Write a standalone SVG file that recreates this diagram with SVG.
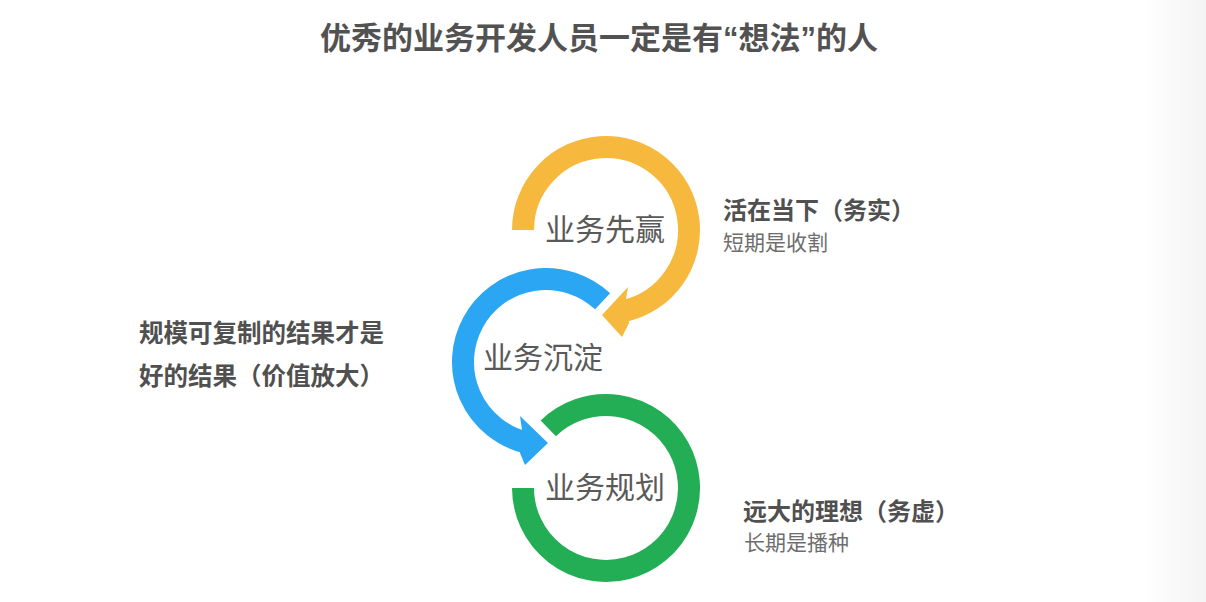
<svg xmlns="http://www.w3.org/2000/svg" width="1206" height="602" viewBox="0 0 1206 602">
<defs>
<linearGradient id="edge" x1="0" y1="0" x2="1" y2="0">
<stop offset="0" stop-color="#ffffff"/>
<stop offset="1" stop-color="#f4f4f4"/>
</linearGradient>
<style>
text{font-family:"Liberation Sans","Noto Sans CJK SC",sans-serif;}
.title{font-size:31px;font-weight:bold;fill:#525252;text-anchor:middle;}
.ring{fill:none;stroke-width:22;stroke-linecap:butt;}
.lbl{font-size:30px;fill:#5a5a5a;text-anchor:middle;}
.head{font-size:24px;font-weight:bold;fill:#505050;}
.sub{font-size:21px;fill:#6e6e6e;}
.yel{stroke:#F7B93D;} .yelf{fill:#F7B93D;}
.blu{stroke:#2AA6F2;} .bluf{fill:#2AA6F2;}
.grn{stroke:#23AE55;}
</style>
</defs>
<rect width="1206" height="602" fill="#ffffff"/>
<rect x="1140" y="0" width="66" height="602" fill="url(#edge)"/>
<text class="title" x="599" y="49">优秀的业务开发人员一定是有“想法”的人</text>

<g id="node-win">
<path class="ring yel" d="M 523 230 A 83 83 0 1 1 623.26 311.19"/>
<polygon class="yelf" points="602,315 628,287 626,299 629,323 622,337"/>
<text class="lbl" x="605" y="240">业务先赢</text>
</g>

<g id="node-settle">
<path class="ring blu" d="M 602.6 301.3 A 83 83 0 1 0 525.92 442.53"/>
<polygon class="bluf" points="520,416 548,443 525,465 520,453 522,430"/>
<text class="lbl" x="543" y="368">业务沉淀</text>
</g>

<g id="node-plan">
<path class="ring grn" d="M 548.3 428.3 A 83 83 0 1 1 523 488"/>
<text class="lbl" x="605" y="498">业务规划</text>
</g>

<g id="note-short">
<text class="head" x="723" y="219">活在当下（务实）</text>
<text class="sub" x="723" y="250">短期是收割</text>
</g>

<g id="note-scale">
<text class="head" x="139" y="342" style="font-size:24.5px">规模可复制的结果才是</text>
<text class="head" x="139" y="385" style="font-size:24.5px">好的结果（价值放大）</text>
</g>

<g id="note-long">
<text class="head" x="743" y="520">远大的理想（务虚）</text>
<text class="sub" x="744" y="550">长期是播种</text>
</g>
</svg>
